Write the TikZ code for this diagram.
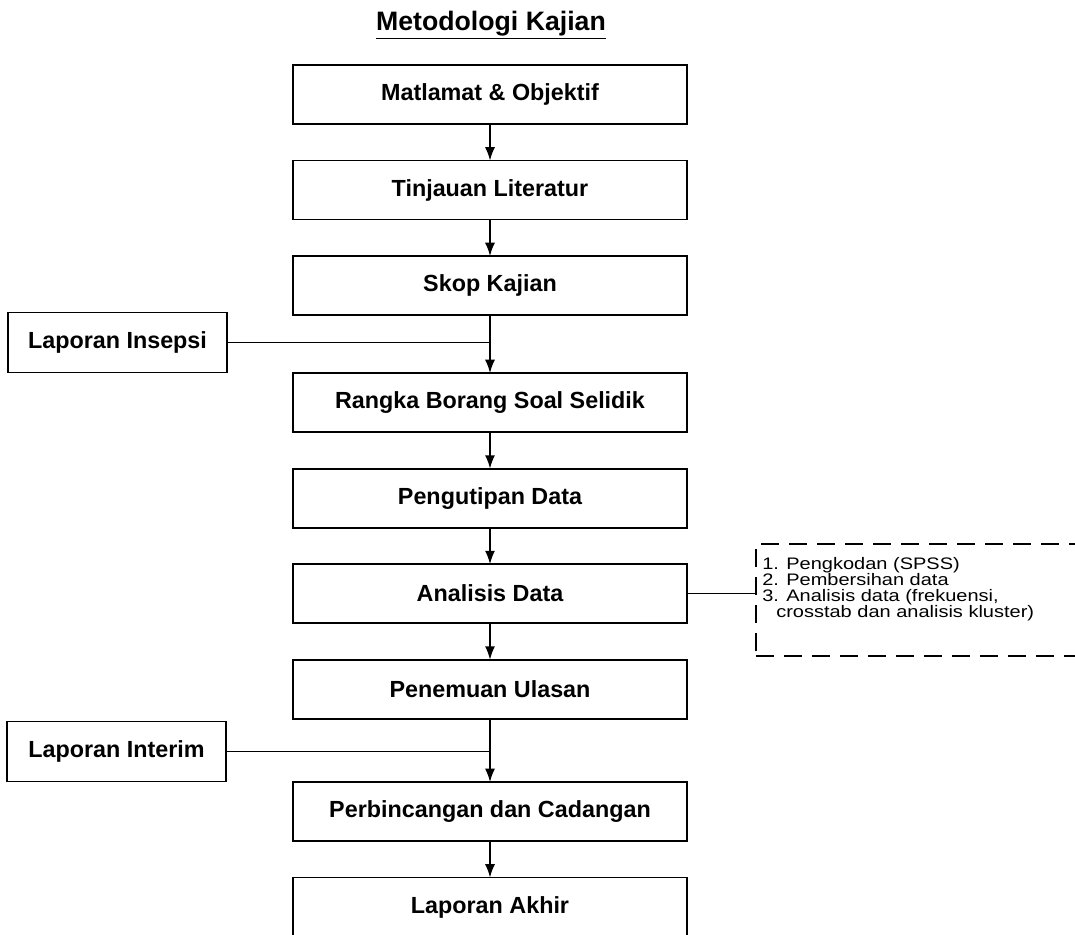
\documentclass[tikz,border=0pt]{standalone}
\usepackage{fontspec}
\setmainfont{Liberation Sans}
\newfontfamily\listfont{Liberation Sans}[FakeStretch=1.2]
\usetikzlibrary{positioning,arrows.meta}

\begin{document}
\begin{tikzpicture}[
  x=0.75pt,y=-0.75pt,
  node distance=27.4pt,
  kotak/.style={draw,line width=1.4pt,minimum width=295.5pt,minimum height=44.25pt,
    inner sep=0pt,outer sep=0pt,font=\fontsize{17.5}{20}\selectfont\bfseries},
  kotaksisi/.style={kotak,minimum width=164.25pt,minimum height=45pt},
  every path/.style={>={Latex[length=10pt,width=7.5pt]}},
  alir/.style={->,line width=1.1pt},
  ]
  \useasboundingbox (0,0) rectangle (1075,935);
  \node[font=\fontsize{20}{24}\selectfont\bfseries] (judul) at (491,25) {\underline{Metodologi Kajian}};
  \node[kotak] (matlamat) at (490,94.5) {Matlamat \& Objektif};
  \node[kotak,below=of matlamat] (tinjauan) {Tinjauan Literatur};
  \node[kotak,below=of tinjauan] (skop) {Skop Kajian};
  \node[kotak,below=43.5pt of skop] (rangka) {Rangka Borang Soal Selidik};
  \node[kotak,below=of rangka] (pengutipan) {Pengutipan Data};
  \node[kotak,below=of pengutipan] (analisis) {Analisis Data};
  \node[kotak,below=of analisis] (penemuan) {Penemuan Ulasan};
  \node[kotak,below=47.5pt of penemuan] (perbincangan) {Perbincangan dan Cadangan};
  \node[kotak,below=of perbincangan] (akhir) {Laporan Akhir};
  % laporan di sisi kiri
  \node[kotaksisi] (insepsi) at (117.5,342.5) {Laporan Insepsi};
  \node[kotaksisi] (interim) at (116.5,751.5) {Laporan Interim};
  % langkah analisis data
  \node[draw,line width=1.4pt,dash pattern=on 13.5pt off 7.5pt,
    minimum width=250pt,minimum height=84pt,anchor=north west] (langkah) at (755,543) {};
  \node[anchor=north west,align=left,inner sep=0pt,
    font=\listfont\fontsize{12.5}{12}\selectfont] (senarai) at (762,557)
    {1. Pengkodan (SPSS)\\2. Pembersihan data\\3. Analisis data (frekuensi,\\
     \hspace*{10.5pt}crosstab dan analisis kluster)};

  \foreach \a/\b in {matlamat/tinjauan,tinjauan/skop,skop/rangka,rangka/pengutipan,
    pengutipan/analisis,analisis/penemuan,penemuan/perbincangan,perbincangan/akhir}
    \draw[alir] (\a) -- (\b);
  \draw[line width=0.9pt] (insepsi) -- (insepsi -| skop);
  \draw[line width=0.9pt] (interim) -- (interim -| penemuan);
  \draw[line width=1.1pt] (analisis.east) -- (analisis.east -| langkah.west);
\end{tikzpicture}
\end{document}
